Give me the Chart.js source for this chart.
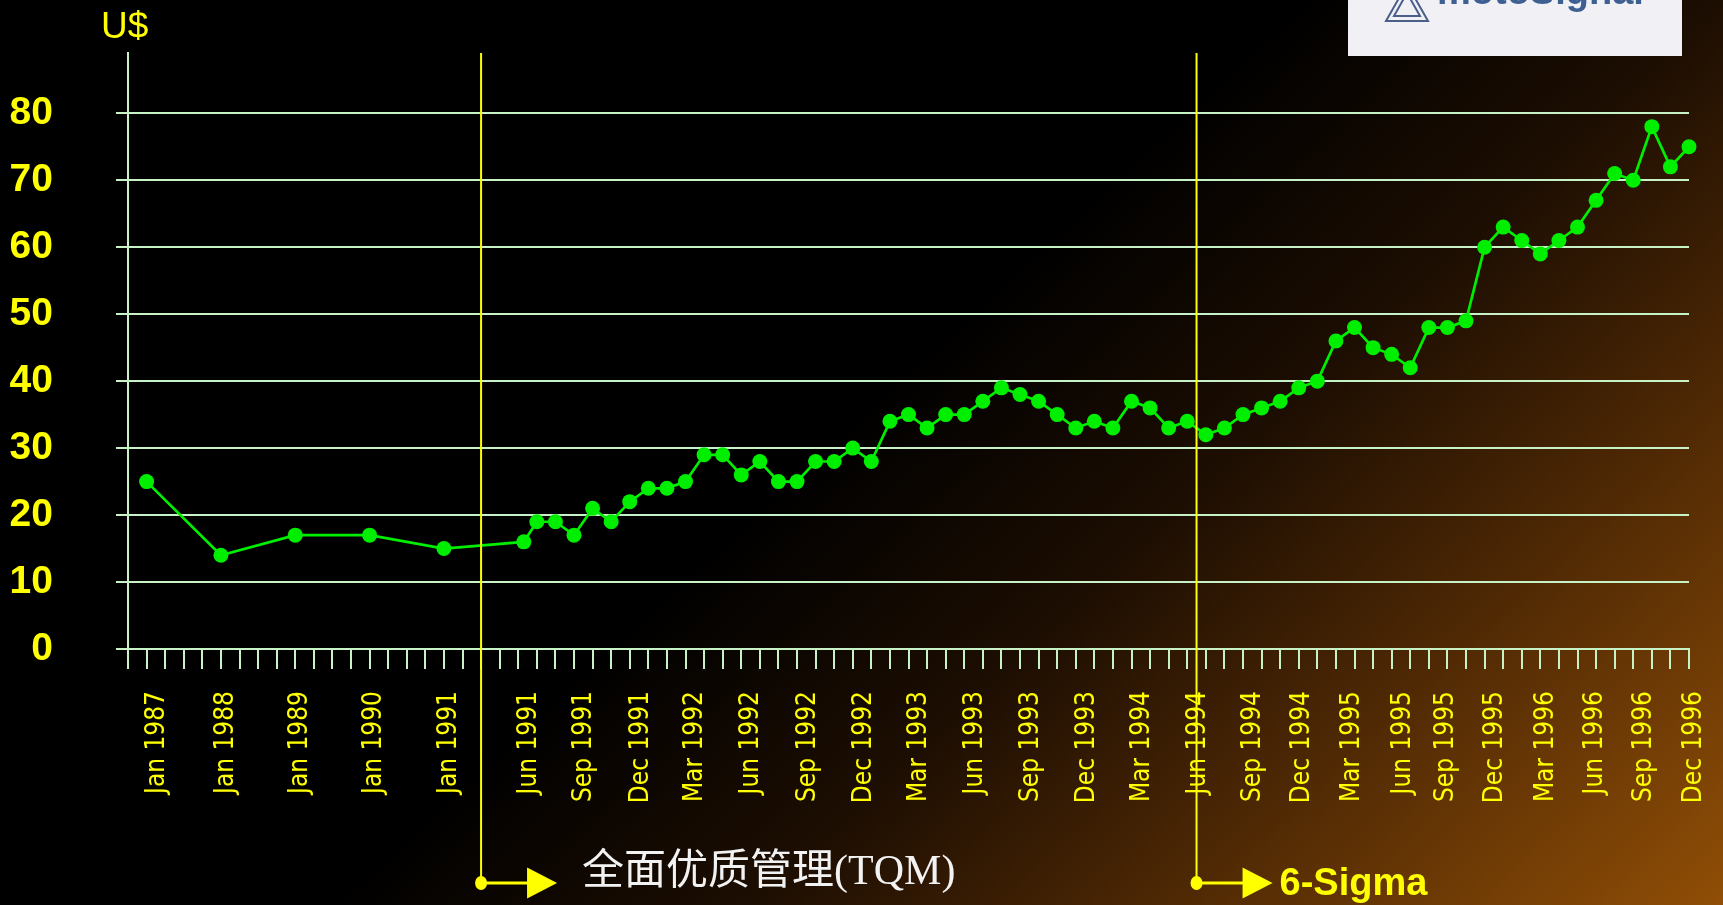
<!DOCTYPE html>
<html>
<head>
<meta charset="utf-8">
<title>U$</title>
<script src="https://cdn.jsdelivr.net/npm/chart.js@4.4.1/dist/chart.umd.min.js"></script>
<style>
  html, body { margin: 0; padding: 0; background: #000; overflow: hidden; }
  canvas { display: block; }
</style>
</head>
<body>
<canvas id="grafico" width="1723" height="905"></canvas>
<script>
// position of each point on the slot axis (yearly points first, then monthly)
const slot = [1, 5, 9, 13, 17, 21.3,
  22, 23, 24, 25, 26, 27, 28, 29, 30, 31, 32, 33, 34, 35, 36, 37, 38, 39, 40,
  41, 42, 43, 44, 45, 46, 47, 48, 49, 50, 51, 52, 53, 54, 55, 56, 57, 58, 59, 60,
  61, 62, 63, 64, 65, 66, 67, 68, 69, 70, 71, 72, 73, 74, 75, 76, 77, 78, 79, 80,
  81, 82, 83, 84];
const price = [25, 14, 17, 17, 15, 16,
  19, 19, 17, 21, 19, 22, 24, 24, 25, 29, 29, 26, 28, 25, 25, 28, 28, 30, 28,
  34, 35, 33, 35, 35, 37, 39, 38, 37, 35, 33, 34, 33, 37, 36, 33, 34, 32, 33, 35,
  36, 37, 39, 40, 46, 48, 45, 44, 42, 48, 48, 49, 60, 63, 61, 59, 61, 63, 67, 71,
  70, 78, 72, 75];

const periodLabels = ['Jan 1987', 'Jan 1988', 'Jan 1989', 'Jan 1990', 'Jan 1991',
  'Jun 1991', 'Sep 1991', 'Dec 1991', 'Mar 1992', 'Jun 1992', 'Sep 1992', 'Dec 1992',
  'Mar 1993', 'Jun 1993', 'Sep 1993', 'Dec 1993', 'Mar 1994', 'Jun 1994', 'Sep 1994',
  'Dec 1994', 'Mar 1995', 'Jun 1995', 'Sep 1995', 'Dec 1995', 'Mar 1996', 'Jun 1996',
  'Sep 1996', 'Dec 1996'];
const periodAt = [1.56, 5.27, 9.27, 13.26, 17.3,
  21.59, 24.57, 27.6, 30.55, 33.56, 36.6, 39.6,
  42.6, 45.59, 48.6, 51.6, 54.6, 57.6, 60.56,
  63.2, 65.9, 68.6, 70.95, 73.6, 76.3, 78.96,
  81.6, 84.3];

const milestones = ['全面优质管理(TQM)', '6-Sigma'];
const milestoneAt = [19, 57.5];

const YELLOW = '#ffff00';
const GRID = '#c6f2c6';
const LINE = '#00ee00';

// pick a condensed face for the date labels if one is installed,
// and size it so "Jan 1987" runs about 102px
function temFonte(nome) {
  const c = document.createElement('canvas').getContext('2d');
  c.font = '30px monospace';
  const base = c.measureText('Jan 1987 Sep').width;
  c.font = '30px "' + nome + '", monospace';
  return c.measureText('Jan 1987 Sep').width !== base;
}
const familia = ['Liberation Sans Narrow', 'DejaVu Sans Condensed'].find(temFonte) || 'Liberation Sans';
const fonteDatas = (() => {
  const c = document.createElement('canvas').getContext('2d');
  c.font = '100px "' + familia + '"';
  const w = c.measureText('Jan 1987').width / 100;
  return { family: '"' + familia + '", "Liberation Sans", Arial, sans-serif', size: Math.round(102 / w) };
})();

const decoracao = {
  id: 'decoracao',
  beforeDraw(chart) {
    const { ctx, width, height } = chart;
    const g = ctx.createLinearGradient(0, 0, 1250, 1344);
    g.addColorStop(0, '#000000');
    g.addColorStop(0.48, '#000000');
    g.addColorStop(0.64, '#1d0e02');
    g.addColorStop(0.78, '#4a2604');
    g.addColorStop(1, '#904e06');
    ctx.save();
    ctx.fillStyle = g;
    ctx.fillRect(0, 0, width, height);
    ctx.restore();
  },
  afterDraw(chart) {
    const { ctx, chartArea } = chart;
    const x = chart.scales.x;
    ctx.save();

    // logo box, cut off by the top edge
    ctx.fillStyle = '#f1f0f4';
    ctx.fillRect(1348, 0, 334, 56);
    ctx.strokeStyle = '#4a5f8a';
    ctx.lineWidth = 2;
    ctx.beginPath();
    ctx.moveTo(1386, 21); ctx.lineTo(1428, 21); ctx.lineTo(1407, -16); ctx.closePath();
    ctx.stroke();
    ctx.beginPath();
    ctx.moveTo(1394, 16); ctx.lineTo(1420, 16); ctx.lineTo(1407, -7); ctx.closePath();
    ctx.stroke();
    ctx.fillStyle = '#3d5f92';
    ctx.font = 'bold 38px "Liberation Sans", Arial, sans-serif';
    ctx.textBaseline = 'alphabetic';
    ctx.fillText('motoSignal', 1437, 4);

    // unit
    ctx.fillStyle = YELLOW;
    ctx.font = '37px "Liberation Sans", Arial, sans-serif';
    ctx.fillText('U$', 101, 38);

    // milestone markers
    const yMarca = 883;
    milestoneAt.forEach((v, i) => {
      const px = x.getPixelForValue(v);
      ctx.strokeStyle = YELLOW;
      ctx.fillStyle = YELLOW;
      ctx.lineWidth = 2;
      ctx.beginPath();
      ctx.moveTo(px, chartArea.top);
      ctx.lineTo(px, yMarca);
      ctx.stroke();
      ctx.beginPath();
      ctx.ellipse(px, yMarca, 6, 7, 0, 0, Math.PI * 2);
      ctx.fill();
      ctx.lineWidth = 3;
      ctx.beginPath();
      ctx.moveTo(px, yMarca);
      ctx.lineTo(px + 48, yMarca);
      ctx.stroke();
      ctx.beginPath();
      ctx.moveTo(px + 46, yMarca - 15.5);
      ctx.lineTo(px + 76, yMarca);
      ctx.lineTo(px + 46, yMarca + 15.5);
      ctx.closePath();
      ctx.fill();

      if (i === 0) {
        ctx.fillStyle = '#f2f2f2';
        ctx.font = '42px "Liberation Serif", "Noto Sans CJK SC", serif';
        ctx.fillText(milestones[i], px + 101, 884);
      } else {
        ctx.fillStyle = YELLOW;
        ctx.font = 'bold 38px "Liberation Sans", Arial, sans-serif';
        ctx.fillText(milestones[i], px + 83, 895);
      }
    });
    ctx.restore();
  }
};

new Chart(document.getElementById('grafico'), {
  type: 'line',
  data: {
    datasets: [{
      label: 'U$',
      data: slot.map((s, i) => ({ x: s, y: price[i] })),
      borderColor: LINE,
      backgroundColor: LINE,
      borderWidth: 2.7,
      pointRadius: 7.5,
      pointBorderWidth: 0,
      pointBackgroundColor: LINE,
      tension: 0,
      clip: false
    }]
  },
  options: {
    responsive: false,
    devicePixelRatio: 1,
    animation: false,
    layout: { padding: { top: 53, left: 0, right: 34, bottom: 0 } },
    plugins: {
      legend: { display: false },
      tooltip: { enabled: false }
    },
    scales: {
      x: {
        type: 'linear',
        position: 'bottom',
        weight: 0,
        min: 0,
        max: 84,
        ticks: { display: false, stepSize: 1, maxTicksLimit: 100, autoSkip: false },
        grid: { drawOnChartArea: false, drawTicks: true, tickLength: 20, color: GRID, lineWidth: 2 },
        border: { display: true, color: GRID, width: 2 }
      },
      datas: {
        type: 'linear',
        position: 'bottom',
        weight: 1,
        min: 0,
        max: 84,
        afterBuildTicks: s => { s.ticks = periodAt.map(v => ({ value: v })); },
        afterFit: s => {
          s.height = 236;
          s.paddingLeft = 0;
          s.paddingRight = 0;
        },
        ticks: {
          autoSkip: false,
          minRotation: 90,
          maxRotation: 90,
          padding: 14,
          color: YELLOW,
          font: fonteDatas,
          callback: (v, i) => periodLabels[i]
        },
        grid: { display: false },
        border: { display: false }
      },
      y: {
        min: 0,
        max: 89,
        afterBuildTicks: s => { s.ticks = s.ticks.filter(t => t.value <= 80); },
        afterFit: s => {
          s.width = 128;
          s.paddingTop = 0;
          s.paddingBottom = 0;
        },
        ticks: {
          stepSize: 10,
          padding: 63,
          color: YELLOW,
          font: { family: '"Liberation Sans", Arial, sans-serif', size: 39, weight: 'bold' }
        },
        grid: { color: GRID, lineWidth: 2, drawTicks: true, tickLength: 12 },
        border: { display: true, color: GRID, width: 2 }
      }
    }
  },
  plugins: [decoracao]
});
</script>
</body>
</html>
